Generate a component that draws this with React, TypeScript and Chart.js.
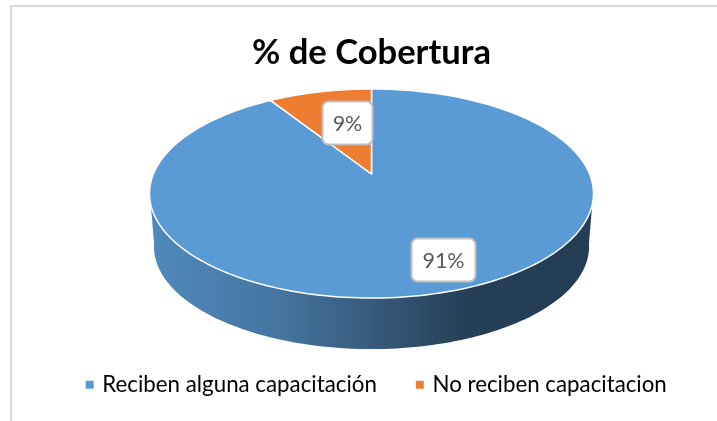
import React, { useEffect, useRef } from "react";
import { Chart, registerables } from "chart.js";

Chart.register(...registerables);

const categories = ["Reciben alguna capacitación", "No reciben capacitacion"];
const coverage = [91, 9];
const sliceColors = ["#5B9BD5", "#ED7D31"];
const legendColors = ["#5B9BD5", "#ED7D31"];
const titleText = "% de Cobertura";
const FONT = "Lato, Carlito, Calibri, sans-serif";

// perspective pie settings
const K = -0.1866;
const RX_FACTOR = 218.1;
const RY_FACTOR = 100.9;
const APEX_Y = 174;
const LOWER_SCALE = 0.98;
const LOWER_APEX_Y = 227.5;
const labelOffsets = [[72, 86], [-24, -51]];
const labelBoxes = [[64, 43], [50, 43]];

function project(cx: number, cy: number, s: number, a: number, t = 1) {
  const u = Math.cos(a) * t;
  const v = Math.sin(a) * t;
  const d = 1 + K * v;
  return { x: cx + (s * RX_FACTOR * u) / d, y: cy + (s * RY_FACTOR * v) / d };
}

function roundRect(ctx: CanvasRenderingContext2D, x: number, y: number, w: number, h: number, r: number) {
  ctx.beginPath();
  ctx.roundRect(x, y, w, h, r);
}

const piePlugin = {
  id: "perspectivePie",
  afterLayout(chart: any) {
    const lg = chart.legend;
    if (lg) { lg.left += 6; lg.right += 6; }
  },
  beforeDatasetDraw(chart: any) {
    const ctx: CanvasRenderingContext2D = chart.ctx;
    const meta = chart.getDatasetMeta(0);
    const cx = meta.data[0].x;

    // side wall
    const grad = ctx.createLinearGradient(152, 0, 592, 0);
    grad.addColorStop(0, "#5089BD");
    grad.addColorStop(0.3, "#44749F");
    grad.addColorStop(0.5, "#375A7C");
    grad.addColorStop(0.72, "#243F56");
    grad.addColorStop(1, "#233E54");
    ctx.save();
    ctx.beginPath();
    const startA = Math.PI * 0.95;
    const endA = Math.PI * 0.05;
    const p0 = project(cx, APEX_Y, 1, startA);
    ctx.moveTo(p0.x, p0.y);
    for (let i = 0; i <= 120; i++) {
      const a = startA + ((endA - startA) * i) / 120;
      const p = project(cx, LOWER_APEX_Y, LOWER_SCALE, a);
      ctx.lineTo(p.x, p.y);
    }
    const p1 = project(cx, APEX_Y, 1, endA);
    ctx.lineTo(p1.x, p1.y);
    ctx.closePath();
    ctx.fillStyle = grad;
    ctx.fill();

    // top faces, geometry taken from the arc elements
    meta.data.forEach((arc: any, i: number) => {
      ctx.beginPath();
      ctx.moveTo(cx, APEX_Y);
      const n = 240;
      for (let j = 0; j <= n; j++) {
        const a = arc.startAngle + ((arc.endAngle - arc.startAngle) * j) / n;
        const p = project(cx, APEX_Y, 1, a);
        ctx.lineTo(p.x, p.y);
      }
      ctx.closePath();
      ctx.fillStyle = sliceColors[i];
      ctx.fill();
      ctx.strokeStyle = "#FFFFFF";
      ctx.lineWidth = 1.5;
      ctx.lineJoin = "round";
      ctx.stroke();
    });

    // data labels
    const total = coverage.reduce((s, v) => s + v, 0);
    meta.data.forEach((_: any, i: number) => {
      const lx = cx + labelOffsets[i][0];
      const ly = APEX_Y + labelOffsets[i][1];
      const [w, h] = labelBoxes[i];
      roundRect(ctx, lx - w / 2, ly - h / 2, w, h, 6);
      ctx.fillStyle = "#FFFFFF";
      ctx.fill();
      ctx.strokeStyle = "#BFBFBF";
      ctx.lineWidth = 2;
      ctx.stroke();
      ctx.fillStyle = "#595959";
      ctx.font = `21.5px ${FONT}`;
      ctx.textAlign = "center";
      ctx.textBaseline = "middle";
      ctx.fillText(`${Math.round((coverage[i] / total) * 100)}%`, lx, ly + 1);
    });
    ctx.restore();
    return false;
  },
};

export default function App() {
  const ref = useRef<HTMLCanvasElement>(null);
  useEffect(() => {
    if (!ref.current) return;
    const chart = new Chart(ref.current, {
      type: "pie",
      data: {
        labels: categories,
        datasets: [{ data: coverage, backgroundColor: sliceColors, borderWidth: 0 }],
      },
      options: {
        responsive: false,
        animation: false,
        layout: { padding: { left: 26, right: 0, top: 32, bottom: 15 } },
        events: [],
        plugins: {
          title: {
            display: true,
            text: titleText,
            color: "#000000",
            font: { family: FONT, size: 34.6, weight: "bold" },
            padding: { top: 0, bottom: 8 },
          },
          legend: {
            position: "bottom",
            labels: {
              boxWidth: 3,
              boxHeight: 3,
              color: "#000000",
              font: { family: FONT, size: 22.3 },
              padding: 41.5,
              generateLabels: () =>
                categories.map((text, i) => ({
                  text,
                  fillStyle: legendColors[i],
                  strokeStyle: legendColors[i],
                  lineWidth: 5,
                  hidden: false,
                  index: i,
                  datasetIndex: 0,
                })),
            },
          },
          tooltip: { enabled: false },
        },
      },
      plugins: [piePlugin],
    });
    return () => chart.destroy();
  }, []);
  return (
    <div style={{ position: "fixed", left: 0, top: 0, width: 717, height: 421, background: "#fff" }}>
      <div style={{ position: "absolute", left: 10, top: 5, width: 707, height: 2, background: "#D9D9D9" }} />
      <div style={{ position: "absolute", left: 10, top: 5, width: 2, height: 416, background: "#D9D9D9" }} />
      <canvas ref={ref} width={717} height={421} style={{ position: "absolute", left: 0, top: 0 }} />
    </div>
  );
}
